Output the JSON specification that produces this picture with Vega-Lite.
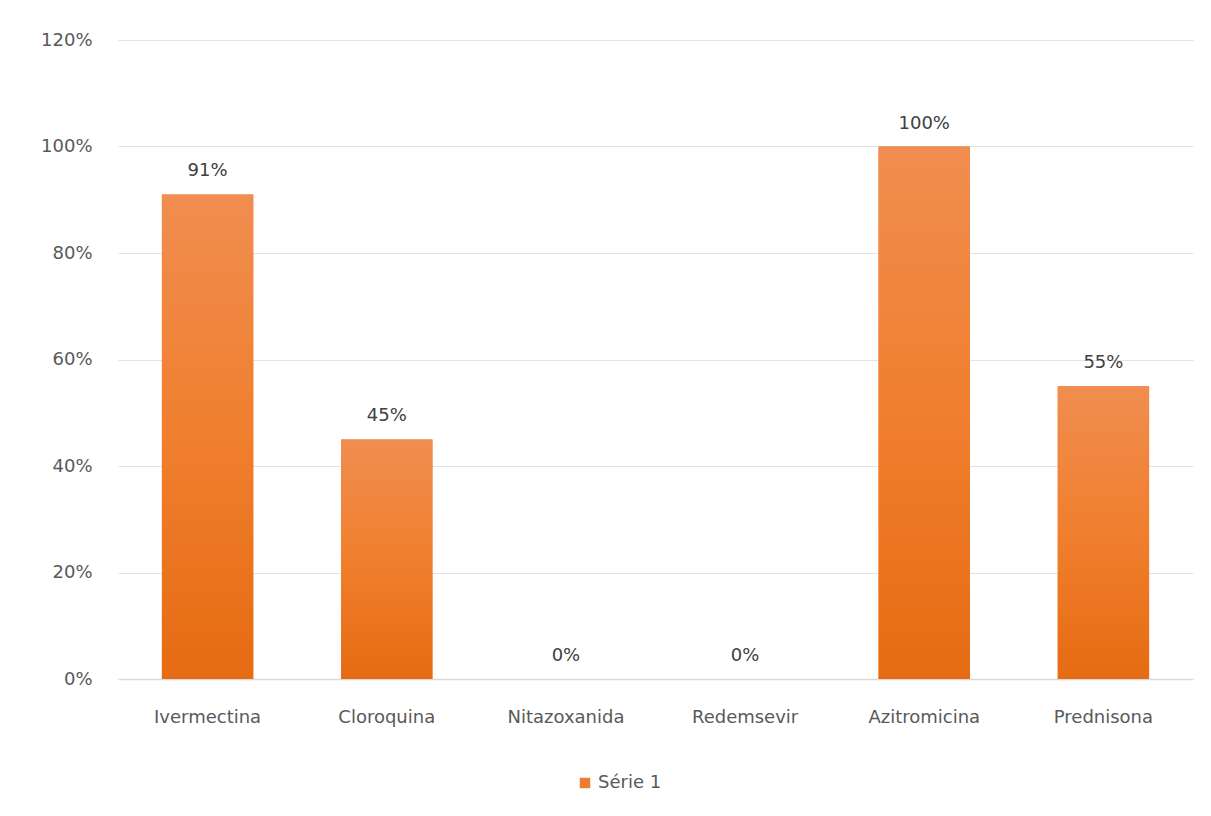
{
  "$schema": "https://vega.github.io/schema/vega-lite/v6.json",
  "width": 1075,
  "height": 639,
  "autosize": {"type": "none"},
  "padding": {"left": 118, "top": 40, "right": 18, "bottom": 137},
  "background": "white",
  "config": {
    "view": {"stroke": null},
    "font": "DejaVu Sans",
    "axis": {"labelFont": "DejaVu Sans", "labelColor": "#595959", "labelFontSize": 18}
  },
  "data": {
    "values": [
      {"drug": "Ivermectina", "value": 0.91, "series": "Série 1"},
      {"drug": "Cloroquina", "value": 0.45, "series": "Série 1"},
      {"drug": "Nitazoxanida", "value": 0.0, "series": "Série 1"},
      {"drug": "Redemsevir", "value": 0.0, "series": "Série 1"},
      {"drug": "Azitromicina", "value": 1.0, "series": "Série 1"},
      {"drug": "Prednisona", "value": 0.55, "series": "Série 1"}
    ]
  },
  "encoding": {
    "x": {
      "field": "drug", "type": "nominal", "sort": null,
      "scale": {"paddingInner": 0.49, "paddingOuter": 0.245},
      "axis": {"title": null, "labelAngle": 0, "ticks": false, "domainColor": "#D9D9D9", "domainWidth": 1.5, "labelPadding": 29}
    },
    "y": {
      "field": "value", "type": "quantitative",
      "scale": {"domain": [0, 1.2]},
      "axis": {"title": null, "format": ".0%", "values": [0, 0.2, 0.4, 0.6, 0.8, 1.0, 1.2], "domain": false, "ticks": false, "gridColor": "#E3E3E3", "gridWidth": 1, "labelPadding": 26}
    }
  },
  "layer": [
    {
      "mark": {"type": "bar"},
      "encoding": {
        "color": {
          "field": "series", "type": "nominal",
          "scale": {"range": ["#ED7D31"]},
          "legend": {"title": null, "orient": "none", "legendX": 458, "legendY": 734, "symbolType": "square", "symbolSize": 110, "labelFontSize": 18, "labelColor": "#595959", "labelFont": "DejaVu Sans", "symbolStrokeWidth": 0}
        }
      }
    },
    {
      "mark": {
        "type": "bar",
        "color": {
          "gradient": "linear", "x1": 0, "y1": 0, "x2": 0, "y2": 1,
          "stops": [
            {"offset": 0, "color": "#F08D50"},
            {"offset": 0.5, "color": "#F07F2E"},
            {"offset": 1, "color": "#E66B12"}
          ]
        }
      }
    },
    {
      "mark": {"type": "text", "baseline": "bottom", "dy": -14, "fontSize": 18, "color": "#404040", "font": "DejaVu Sans"},
      "encoding": {
        "text": {"field": "value", "type": "quantitative", "format": ".0%"}
      }
    }
  ]
}
